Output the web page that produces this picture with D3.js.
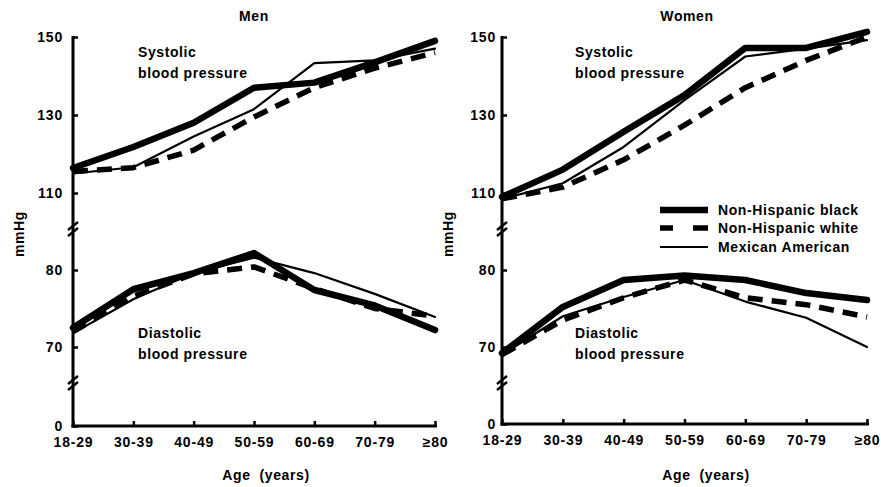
<!DOCTYPE html>
<html>
<head>
<meta charset="utf-8">
<script src="https://cdn.jsdelivr.net/npm/d3@7/dist/d3.min.js"></script>
<style>
  html, body { margin: 0; padding: 0; background: #fff; }
  svg text { font-family: "Liberation Sans", Arial, Helvetica, sans-serif; font-weight: bold; fill: #000; white-space: pre; }
</style>
</head>
<body>
<svg id="chart" width="881" height="487"></svg>
<script>
// ---------- data ----------
const ageGroups = ["18-29", "30-39", "40-49", "50-59", "60-69", "70-79", "\u226580"];
const seriesNames = ["Non-Hispanic black", "Non-Hispanic white", "Mexican American"];

const menSysBlack = [116.4, 121.8, 128.0, 137.0, 138.3, 143.5, 149.0];
const menSysWhite = [115.5, 116.5, 121.0, 129.5, 137.0, 142.0, 146.0];
const menSysMex   = [115.0, 116.6, 124.5, 131.5, 143.3, 144.0, 147.0];
const menDiaBlack = [72.5, 77.5, 79.6, 82.2, 77.4, 75.4, 72.2];
const menDiaWhite = [72.0, 76.6, 79.5, 80.4, 77.6, 75.0, 74.0];
const menDiaMex   = [71.8, 76.2, 79.6, 81.6, 79.6, 76.9, 73.9];

const womenSysBlack = [109.0, 116.0, 125.7, 135.1, 147.2, 147.2, 151.3];
const womenSysWhite = [108.5, 111.5, 118.5, 127.4, 137.0, 144.0, 150.0];
const womenSysMex   = [108.5, 112.5, 121.8, 133.8, 145.0, 147.0, 149.2];
const womenDiaBlack = [69.2, 75.2, 78.7, 79.3, 78.7, 77.0, 76.1];
const womenDiaWhite = [69.0, 73.5, 76.4, 78.7, 76.4, 75.5, 73.9];
const womenDiaMex   = [69.0, 74.0, 76.5, 78.7, 75.9, 73.8, 70.0];

const sysTicks = [110, 130, 150];
const diaTicks = [70, 80];
const zeroTicks = [0];

// ---------- layout ----------
const svg = d3.select("#chart");
const styles = [
  { width: 6.5, dash: null, cap: "round" },
  { width: 5.5, dash: "15,9", cap: "butt" },
  { width: 2.2, dash: null, cap: "round" }
];

const panels = [
  { title: "Men", x0: 73, x1: 435, pad: 10, titleX: 254, ageX: 266, mmX: 19, labelX: 138, zeroY: 426,
    sys: [menSysBlack, menSysWhite, menSysMex], dia: [menDiaBlack, menDiaWhite, menDiaMex], legend: false },
  { title: "Women", x0: 502, x1: 867, pad: 6, titleX: 687, ageX: 706, mmX: 448, labelX: 575, zeroY: 424,
    sys: [womenSysBlack, womenSysWhite, womenSysMex], dia: [womenDiaBlack, womenDiaWhite, womenDiaMex], legend: true }
];

panels.forEach(p => {
  const g = svg.append("g");
  const x = d3.scalePoint().domain(ageGroups).range([p.x0, p.x1]);
  const ySys = d3.scaleLinear().domain([110, 150]).range([193, 37]);
  const yDia = d3.scaleLinear().domain([70, 80]).range([347, 270]);
  const yZero = d3.scaleLinear().domain([0, 1]).range([p.zeroY, p.zeroY - 10]);

  // spine
  g.append("line").attr("x1", p.x0).attr("x2", p.x0).attr("y1", 36).attr("y2", p.zeroY + 1.5)
    .attr("stroke", "#000").attr("stroke-width", 3);
  g.append("line").attr("x1", p.x0 - 1.5).attr("x2", p.x1 + 2).attr("y1", p.zeroY).attr("y2", p.zeroY)
    .attr("stroke", "#000").attr("stroke-width", 3);

  // break marks
  [229, 383].forEach(by => {
    [-3, 3].forEach(off => {
      g.append("line")
        .attr("x1", p.x0 - 5).attr("y1", by + off + 4)
        .attr("x2", p.x0 + 5).attr("y2", by + off - 4)
        .attr("stroke", "#000").attr("stroke-width", 2.5);
    });
  });

  // y axes (ticks pointing inward)
  const addY = (scale, ticks) => {
    const ax = g.append("g").attr("transform", `translate(${p.x0},0)`)
      .call(d3.axisLeft(scale).tickValues(ticks).tickSize(-5).tickPadding(p.pad).tickFormat(d3.format("d")));
    ax.select(".domain").remove();
    ax.selectAll(".tick line").attr("stroke", "#000").attr("stroke-width", 2.5);
    ax.selectAll(".tick text").attr("font-size", 14).attr("letter-spacing", 0.8)
      .attr("font-family", "'Liberation Sans', Arial, sans-serif").attr("font-weight", "bold");
  };
  addY(ySys, sysTicks);
  addY(yDia, diaTicks);
  addY(yZero, zeroTicks);

  // x axis
  const xa = g.append("g").attr("transform", `translate(0,${p.zeroY})`)
    .call(d3.axisBottom(x).tickSize(-5).tickPadding(11));
  xa.select(".domain").remove();
  xa.selectAll(".tick line").attr("stroke", "#000").attr("stroke-width", 2.5);
  xa.selectAll(".tick text").attr("font-size", 14).attr("letter-spacing", 0.8)
    .attr("font-family", "'Liberation Sans', Arial, sans-serif").attr("font-weight", "bold");

  // lines
  const draw = (arrs, yScale) => {
    [1, 2, 0].forEach(i => {
      const pts = ageGroups.map((a, k) => ({ a, v: arrs[i][k] }));
      const line = d3.line().x(d => x(d.a)).y(d => yScale(d.v));
      g.append("path").datum(pts).attr("d", line)
        .attr("fill", "none").attr("stroke", "#000")
        .attr("stroke-width", styles[i].width)
        .attr("stroke-dasharray", styles[i].dash)
        .attr("stroke-linecap", styles[i].cap)
        .attr("stroke-linejoin", "round");
    });
  };
  draw(p.sys, ySys);
  draw(p.dia, yDia);

  // texts
  const txt = (s, tx, ty, opts = {}) => g.append("text").text(s).attr("x", tx).attr("y", ty)
    .attr("font-size", opts.size || 14).attr("letter-spacing", opts.ls == null ? 0.6 : opts.ls)
    .attr("text-anchor", opts.anchor || "start");
  txt(p.title, p.titleX, 21, { anchor: "middle" });
  txt("Systolic", p.labelX, 57);
  txt("blood pressure", p.labelX, 78);
  txt("Diastolic", p.labelX, 338);
  txt("blood pressure", p.labelX, 359);
  txt("Age  (years)", p.ageX, 480, { anchor: "middle" });
  g.append("text").text("mmHg")
    .attr("transform", `translate(${p.mmX + 5},234) rotate(-90)`)
    .attr("text-anchor", "middle").attr("font-size", 14).attr("letter-spacing", 0.6);

  if (p.legend) {
    const ly = [210, 228, 247];
    seriesNames.forEach((name, i) => {
      g.append("line").attr("x1", 660).attr("x2", 708).attr("y1", ly[i]).attr("y2", ly[i])
        .attr("stroke", "#000").attr("stroke-width", styles[i].width)
        .attr("stroke-dasharray", i === 1 ? "13,20,15" : null);
      g.append("text").text(name).attr("x", 718).attr("y", ly[i]).attr("dy", "0.36em")
        .attr("font-size", 14).attr("letter-spacing", 0.6);
    });
  }
});
</script>
</body>
</html>
